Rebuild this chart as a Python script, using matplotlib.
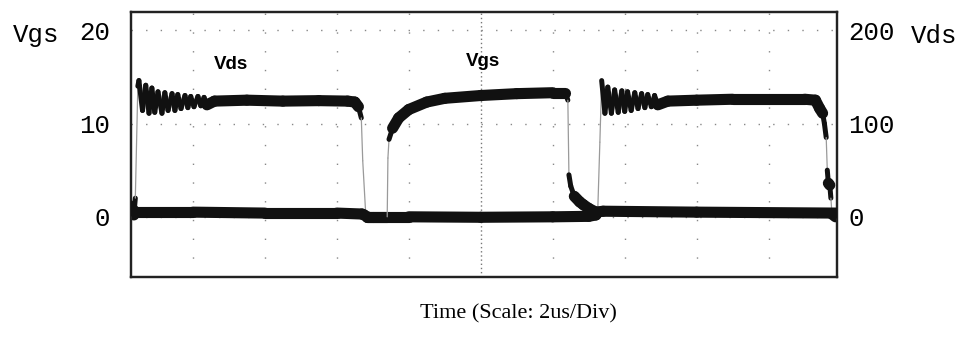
import numpy as np
import matplotlib
matplotlib.use("Agg")
import matplotlib.pyplot as plt
from matplotlib.collections import LineCollection

# time in us (2 us / div), voltages
vds_t = [0.28, 0.36, 0.40, 0.47, 0.50, 0.60, 0.69, 0.78, 0.86, 0.94, 1.03, 1.14, 1.22, 1.31,
         1.42, 1.50, 1.58, 1.67, 1.78, 1.86, 1.94, 2.03, 2.14, 2.22, 2.31, 2.39, 2.60, 3.5,
         4.5, 5.5, 6.3, 6.5, 6.6, 6.68, 6.72, 6.80, 6.85, 8.0, 10.0, 12.0, 13.0, 13.2,
         13.25, 13.31, 13.36, 13.45, 13.53, 13.63, 13.72, 13.82, 13.92, 14.0, 14.08, 14.18,
         14.28, 14.37, 14.47, 14.56, 14.64, 14.74, 14.83, 14.92, 15.2, 16.0, 17.0, 18.0,
         19.0, 19.3, 19.42, 19.5, 19.55, 19.6, 19.63, 19.66, 19.70, 19.73, 19.76, 19.86]
vds_v = [5, 2, 20, 140, 146, 114, 141, 111, 138, 112, 134, 111, 133, 114,
         132, 114, 131, 116, 130, 117, 129, 118, 129, 119, 128, 120, 124, 125,
         124, 124.5, 124, 123, 118, 106, 60, 5, 0, 0, -0.5, 0, 0.5, 2,
         5, 80, 146, 111, 139, 111, 136, 112, 135, 113, 134, 114,
         133, 116, 132, 117, 131, 118, 130, 120, 124, 125, 126, 126,
         126, 125, 116, 111, 100, 85, 50, 36, 34, 20, 3, 0]

vgs_t = [0.28, 0.33, 0.40, 2.0, 4.0, 6.0, 6.7, 6.85, 7.0, 7.40, 7.42, 7.45, 7.55, 7.72,
         8.0, 8.5, 9.0, 10.0, 11.0, 12.0, 12.35, 12.42, 12.45, 12.5, 12.6, 12.75, 12.85,
         13.0, 13.2, 13.4, 16.0, 19.86]
vgs_v = [1.5, 0.8, 0.5, 0.5, 0.4, 0.4, 0.3, 0.0, 0.0, 0.0, 6.3, 8.3, 9.5, 10.6,
         11.5, 12.3, 12.7, 13.0, 13.2, 13.3, 13.3, 12.5, 4.5, 3.3, 2.2, 1.6, 1.3,
         0.9, 0.5, 0.6, 0.5, 0.4]

vgs_ticks = [0, 10, 20]
vds_ticks = [0, 100, 200]
grid_t = [2, 4, 6, 8, 10, 12, 14, 16, 18]


def draw_trace(axis, t, v):
    # on a scope the fast edges come out faint and thin, the slow parts as a thick band
    xy = np.column_stack([t, v])
    pix = axis.transData.transform(xy)
    segs = np.stack([xy[:-1], xy[1:]], axis=1)
    d = np.diff(pix, axis=0)
    slope = np.abs(d[:, 1]) / np.maximum(np.abs(d[:, 0]), 1e-6)
    widths, colors = [], []
    for s in slope:
        if s < 2.5:
            widths.append(8.0)
            colors.append("#111111")
        elif s < 14:
            widths.append(3.6)
            colors.append("#111111")
        else:
            widths.append(0.9)
            colors.append("#9a9a9a")
    lc = LineCollection(segs, linewidths=widths, colors=colors, capstyle="round",
                        joinstyle="round", zorder=3)
    axis.add_collection(lc)


fig = plt.figure(figsize=(9.71, 3.39), dpi=100)
ax = fig.add_axes([131 / 971, 1 - 277 / 339, 706 / 971, 265 / 339])
ax2 = ax.twinx()

ax.set_xlim(0.28, 19.9)
ax.set_ylim(-6.45, 21.95)
ax2.set_ylim(-64.5, 219.5)

# scope graticule, drawn on the lower axes so traces sit on top
for t in grid_t:
    if t == 10:
        ax2.axvline(t, color="#777777", lw=1, ls=(0, (1, 2)), zorder=1)
    else:
        ax2.axvline(t, color="#888888", lw=1, ls=(0, (1, 12.5)), zorder=1)
for v in vds_ticks:
    ax2.axhline(v, color="#888888", lw=1, ls=(0, (1, 9.5)), zorder=1)

draw_trace(ax2, vds_t, vds_v)
draw_trace(ax, vgs_t, vgs_v)
ax.set_zorder(ax2.get_zorder() + 1)
ax.patch.set_visible(False)

ax.text(3.06, 16.3, "Vds", fontsize=13.5, fontweight="bold", family="Liberation Sans",
        ha="center", va="center")
ax.text(10.06, 16.6, "Vgs", fontsize=13.5, fontweight="bold", family="Liberation Sans",
        ha="center", va="center")

ax.set_xticks([])
ax.set_yticks(vgs_ticks)
ax.set_yticklabels([str(v) for v in vgs_ticks], family="Liberation Mono", fontsize=18.5)
ax.tick_params(axis="y", length=0, pad=15)
ax2.set_yticks(vds_ticks)
ax2.set_yticklabels([str(v) for v in vds_ticks], family="Liberation Mono", fontsize=18.5)
ax2.tick_params(axis="y", length=0, pad=8)

for a in (ax, ax2):
    for s in a.spines.values():
        s.set_linewidth(1.6)
        s.set_color("#222222")

fig.text(13 / 971, 1 - 35 / 339, "Vgs", family="Liberation Mono", fontsize=18.5, va="center")
fig.text(911 / 971, 1 - 36 / 339, "Vds", family="Liberation Mono", fontsize=18.5, va="center")
fig.text(518 / 971, 1 - 314 / 339, "Time (Scale: 2us/Div)", family="Liberation Serif",
         fontsize=16, ha="center", va="center")

fig.savefig("out.png", dpi=100)
